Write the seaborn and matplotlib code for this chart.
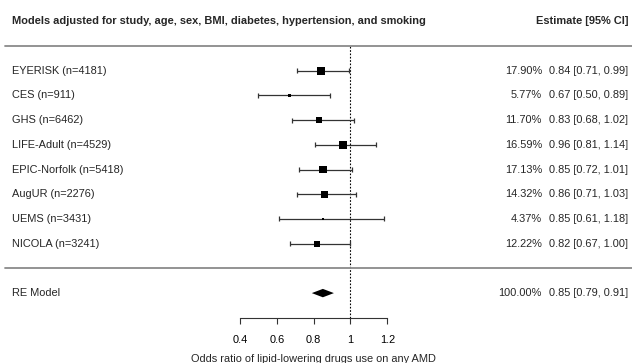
import numpy as np
import pandas as pd
import matplotlib
matplotlib.use("Agg")
import matplotlib.pyplot as plt
import seaborn as sns

# ---- data ----
studies = ["EYERISK (n=4181)", "CES (n=911)", "GHS (n=6462)", "LIFE-Adult (n=4529)",
           "EPIC-Norfolk (n=5418)", "AugUR (n=2276)", "UEMS (n=3431)", "NICOLA (n=3241)"]
estimates = [0.84, 0.67, 0.83, 0.96, 0.85, 0.86, 0.85, 0.82]
ci_low = [0.71, 0.50, 0.68, 0.81, 0.72, 0.71, 0.61, 0.67]
ci_high = [0.99, 0.89, 1.02, 1.14, 1.01, 1.03, 1.18, 1.00]
weights = [17.90, 5.77, 11.70, 16.59, 17.13, 14.32, 4.37, 12.22]

re_label = "RE Model"
re_est, re_low, re_high, re_weight = 0.85, 0.79, 0.91, 100.00

title_text = "Models adjusted for study, age, sex, BMI, diabetes, hypertension, and smoking"
right_header = "Estimate [95% CI]"
xlabel_text = "Odds ratio of lipid-lowering drugs use on any AMD"
xticks = [0.4, 0.6, 0.8, 1.0, 1.2]
xtick_labels = ["0.4", "0.6", "0.8", "1", "1.2"]

# ---- style ----
sns.set_theme(style="white")
plt.rcParams["font.family"] = ["Liberation Sans", "DejaVu Sans"]
FS = 7.95
DPI = 100
W, H = 632, 363

fig = plt.figure(figsize=(W / DPI, H / DPI), dpi=DPI)
ax = fig.add_axes([0, 0, 1, 1])
ax.set_facecolor("white")

# scale: 0.4 at px 240, 1.2 at px 387.3
ppu = (387.3 - 240) / 0.8
x_left = 0.4 - 240 / ppu
x_right = 0.4 + (W - 240) / ppu
rowpx = 24.71
y_top = 8 + 70.7 / rowpx
y_bot = 8 - (H - 70.7) / rowpx
ax.set_xlim(x_left, x_right)
ax.set_ylim(y_bot, y_top)

k = len(studies)
ypos = np.arange(k, 0, -1).astype(float)
df = pd.DataFrame({"study": studies, "est": estimates, "lo": ci_low,
                   "hi": ci_high, "w": weights, "y": ypos})

# square sizes: side linear in weight (px), converted to points^2
wmin, wmax = min(weights), max(weights)
side_px = {w: 2.7 + 5.3 * (w - wmin) / (wmax - wmin) for w in weights}
size_map = {w: (s * 72 / DPI) ** 2 for w, s in side_px.items()}

line_col = "#333333"
# CI lines and caps
ax.hlines(df["y"], df["lo"], df["hi"], color=line_col, lw=0.9, zorder=2)
cap = 0.1
ax.vlines(df["lo"], df["y"] - cap, df["y"] + cap, color=line_col, lw=0.9, zorder=2)
ax.vlines(df["hi"], df["y"] - cap, df["y"] + cap, color=line_col, lw=0.9, zorder=2)

sns.scatterplot(data=df, x="est", y="y", size="w", sizes=size_map, marker="s",
                color="black", linewidth=0, legend=False, ax=ax, zorder=3)

# RE model diamond
y_re = -1.0
dh = 4.2 / rowpx
ax.fill([re_low, re_est, re_high, re_est], [y_re, y_re + dh, y_re, y_re - dh],
        color="black", lw=0, zorder=3)

# reference line at 1
y_axis = -2.0
ax.vlines(1.0, y_axis, k + 1, color="black", lw=0.8, linestyles=(0, (1.5, 1.5)), zorder=1)

# separators
hline_col = "#8a8a8a"
ax.axhline(k + 1, xmin=5 / W, xmax=1, color=hline_col, lw=1.3)
ax.axhline(0, xmin=5 / W, xmax=1, color=hline_col, lw=1.3)

# texts
xl = 12 / W
xp = 542 / W
xe = 628 / W
tr = ax.get_yaxis_transform()
for s, y, w, e, l, h in zip(studies, ypos, weights, estimates, ci_low, ci_high):
    ax.text(xl, y, s, transform=tr, ha="left", va="center", fontsize=FS)
    ax.text(xp, y, f"{w:.2f}%", transform=tr, ha="right", va="center", fontsize=FS)
    ax.text(xe, y, f"{e:.2f} [{l:.2f}, {h:.2f}]", transform=tr, ha="right", va="center", fontsize=FS)
ax.text(xl, y_re, re_label, transform=tr, ha="left", va="center", fontsize=FS)
ax.text(xp, y_re, f"{re_weight:.2f}%", transform=tr, ha="right", va="center", fontsize=FS)
ax.text(xe, y_re, f"{re_est:.2f} [{re_low:.2f}, {re_high:.2f}]", transform=tr,
        ha="right", va="center", fontsize=FS)

y_head = k + 2
ax.text(xl, y_head, title_text, transform=tr, ha="left", va="center", fontsize=FS, fontweight="bold")
ax.text(xe, y_head, right_header, transform=tr, ha="right", va="center", fontsize=FS, fontweight="bold")

# x axis
for sp in ["top", "right", "left"]:
    ax.spines[sp].set_visible(False)
ax.spines["bottom"].set_position(("data", y_axis))
ax.spines["bottom"].set_bounds(0.4, 1.2)
ax.spines["bottom"].set_color(line_col)
ax.spines["bottom"].set_linewidth(0.8)
ax.set_xticks(xticks)
ax.set_xticklabels(xtick_labels)
ax.tick_params(axis="x", direction="out", length=4.3, width=0.8, color=line_col,
               pad=8, labelsize=FS, labelcolor="black", bottom=True)
ax.set_yticks([])
ax.set_ylabel("")
ax.set_xlabel(xlabel_text, fontsize=FS)
ax.xaxis.set_label_coords(313.6 / W, 1 - 354 / H)

fig.savefig("out.png", dpi=DPI, facecolor="white")
